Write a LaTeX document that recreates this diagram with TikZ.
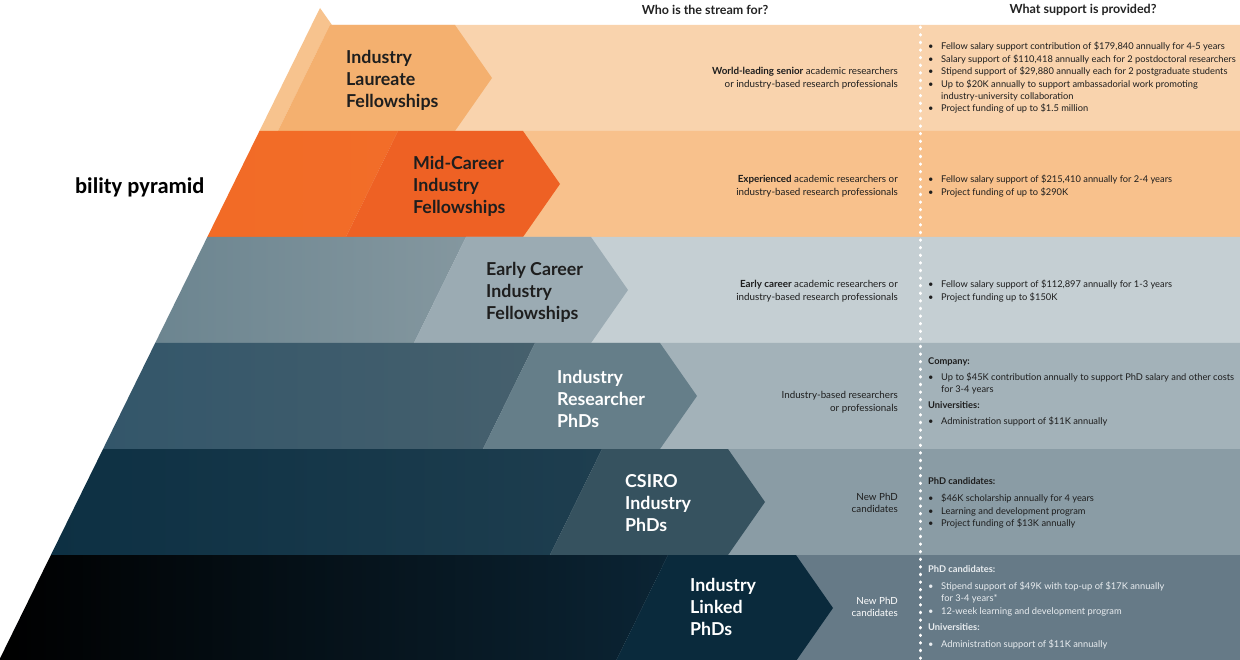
\documentclass[tikz,border=0pt]{standalone}
\usepackage{fontspec}
\setmainfont{Lato}
\newfontfamily\titlefont{Carlito}
\usetikzlibrary{positioning,calc}

\definecolor{hdtext}{HTML}{232323}
\definecolor{labdark}{HTML}{1E1E1E}
\definecolor{r1sa}{HTML}{F7C38E}\definecolor{r1sb}{HTML}{F7C38E}\definecolor{r1ch}{HTML}{F4B06F}\definecolor{r1bk}{HTML}{F9D3AD}
\definecolor{r2sa}{HTML}{F26B26}\definecolor{r2sb}{HTML}{F26D29}\definecolor{r2ch}{HTML}{EE6124}\definecolor{r2bk}{HTML}{F8C18C}
\definecolor{r3sa}{HTML}{6C8590}\definecolor{r3sb}{HTML}{84979F}\definecolor{r3ch}{HTML}{9BABB3}\definecolor{r3bk}{HTML}{C5CFD3}
\definecolor{r4sa}{HTML}{33566A}\definecolor{r4sb}{HTML}{46606D}\definecolor{r4ch}{HTML}{657E89}\definecolor{r4bk}{HTML}{A3B2B9}
\definecolor{r5sa}{HTML}{0D3043}\definecolor{r5sb}{HTML}{1E3E4F}\definecolor{r5ch}{HTML}{36525F}\definecolor{r5bk}{HTML}{8A9CA5}
\definecolor{r6sa}{HTML}{000000}\definecolor{r6sb}{HTML}{0B2434}\definecolor{r6ch}{HTML}{0A2A3C}\definecolor{r6bk}{HTML}{667A87}
\definecolor{lighttext}{HTML}{E9EDF0}

\newcommand\bl{\makebox[13pt][l]{\textbullet}}
\newcommand\hg{\hspace*{13pt}}

\begin{document}
\begin{tikzpicture}[x=1pt,y=-1pt,
  lab/.style={anchor=west, align=left, inner sep=0pt, font=\bfseries\fontsize{17.8}{22}\selectfont},
  who/.style={anchor=east, align=right, inner sep=0pt, font=\fontsize{9.8}{12.8}\selectfont},
  what/.style={anchor=west, align=left, inner sep=0pt, font=\fontsize{9.3}{12.4}\selectfont},
  hd/.style={font=\bfseries\fontsize{12.5}{14}\selectfont, text=hdtext}]

\useasboundingbox[fill=white] (0,0) rectangle (1240,660);

% pyramid peak
\fill[r1sa] (320,8) -- (332,25) -- (311.6,25) -- cycle;

% rows: top, chevron start, tip, colours
\foreach \yt/\cs/\tip/\sa/\sb/\ch/\bk in {25/330/492/r1sa/r1sb/r1ch/r1bk,
    131/398/560/r2sa/r2sb/r2ch/r2bk, 237/466/628/r3sa/r3sb/r3ch/r3bk,
    343/535/697/r4sa/r4sb/r4ch/r4bk, 449/602/765/r5sa/r5sb/r5ch/r5bk,
    555/668/833/r6sa/r6sb/r6ch/r6bk} {
  \pgfmathsetmacro\yb{\yt+106}
  \pgfmathsetmacro\ym{\yt+53}
  \pgfmathsetmacro\ea{320-0.492*(\yt-8)}
  \pgfmathsetmacro\eb{320-0.492*(\yb-8)}
  \pgfmathsetmacro\cb{\cs-52}
  \pgfmathsetmacro\cr{\tip-37}
  \fill[\bk] (\cb,\yb) -- (\cs,\yt) -- (1240,\yt) -- (1240,\yb) -- cycle;
  \shade[left color=\sa, right color=\sb] (\eb,\yb) -- (\ea,\yt) -- (\cs,\yt) -- (\cb,\yb) -- cycle;
  \fill[\ch] (\cb,\yb) -- (\cs,\yt) -- (\cr,\yt) -- (\tip,\ym) -- (\cr,\yb) -- cycle;
}

% dotted divider
\draw[white, line width=3pt, line cap=round, dash pattern=on 0.6pt off 7pt] (920,27) -- (920,660);

\node[anchor=east, font=\titlefont\bfseries\fontsize{22.5}{26}\selectfont] (title) at (208,187) {bility pyramid};
\node[hd] (whohd) at (705,10) {Who is the stream for?};
\node[hd] (whathd) at (1083,10) {What support is provided?};

% stream labels
\node[lab, text=labdark] (laureate) at (346,80) {Industry\\Laureate\\Fellowships};
\node[lab, text=labdark] (midcareer) at (413,186) {Mid-Career\\Industry\\Fellowships};
\node[lab, text=labdark] (early) at (486,292) {Early Career\\Industry\\Fellowships};
\node[lab, text=white] (researcher) at (557,399) {Industry\\Researcher\\PhDs};
\node[lab, text=white] (csiro) at (625,503) {CSIRO\\Industry\\PhDs};
\node[lab, text=white] (linked) at (690,607) {Industry\\Linked\\PhDs};

% who is the stream for
\node[who, text=labdark] (who1) at (898,78) {\textbf{World-leading senior} academic researchers\\or industry-based research professionals};
\node[who, text=labdark] (who2) at (898,186) {\textbf{Experienced} academic researchers or\\industry-based research professionals};
\node[who, text=labdark] (who3) at (898,291) {\textbf{Early career} academic researchers or\\industry-based research professionals};
\node[who, text=labdark] (who4) at (898,402) {Industry-based researchers\\or professionals};
\node[who, text=labdark] (who5) at (898,503) {New PhD\\candidates};
\node[who, text=white] (who6) at (898,607) {New PhD\\candidates};

% what support is provided
\node[what, text=labdark] (what1) at (928,78) {\bl Fellow salary support contribution of \$179,840 annually for 4-5 years\\
  \bl Salary support of \$110,418 annually each for 2 postdoctoral researchers\\
  \bl Stipend support of \$29,880 annually each for 2 postgraduate students\\
  \bl Up to \$20K annually to support ambassadorial work promoting\\
  \hg industry-university collaboration\\
  \bl Project funding of up to \$1.5 million};
\node[what, text=labdark] (what2) at (928,186) {\bl Fellow salary support of \$215,410 annually for 2-4 years\\
  \bl Project funding of up to \$290K};
\node[what, text=labdark] (what3) at (928,291) {\bl Fellow salary support of \$112,897 annually for 1-3 years\\
  \bl Project funding up to \$150K};
\node[what, text=labdark] (what4) at (928,392) {\textbf{Company:}\\[3.7pt]
  \bl Up to \$45K contribution annually to support PhD salary and other costs\\
  \hg for 3-4 years\\[3.7pt]
  \textbf{Universities:}\\[3.7pt]
  \bl Administration support of \$11K annually};
\node[what, text=labdark] (what5) at (928,503) {\textbf{PhD candidates:}\\[4.5pt]
  \bl \$46K scholarship annually for 4 years\\
  \bl Learning and development program\\
  \bl Project funding of \$13K annually};
\node[what, text=lighttext] (what6) at (928,607) {\textbf{PhD candidates:}\\[4.5pt]
  \bl Stipend support of \$49K with top-up of \$17K annually\\
  \hg for 3-4 years*\\
  \bl 12-week learning and development program\\[3.7pt]
  \textbf{Universities:}\\[4.5pt]
  \bl Administration support of \$11K annually};
\end{tikzpicture}
\end{document}
